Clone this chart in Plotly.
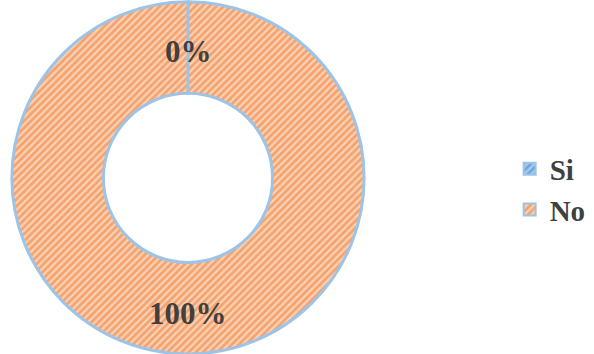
import plotly.graph_objects as go

categories = ["Si", "No"]
values = [0, 100]

colors_bg = ["#6FA8DC", "#F4A36E"]
colors_fg = ["#A9CDF0", "#FBD2B6"]

SERIF = "Liberation Serif"
total = sum(values)

cx0, cx1 = 0.02, 0.613
fig = go.Figure(go.Pie(
    labels=[f"<b>{c}</b>" for c in categories],
    values=values,
    hole=0.48,
    sort=False,
    direction="clockwise",
    rotation=0,
    textinfo="none",
    marker=dict(
        colors=colors_bg,
        line=dict(color="#9DC3E6", width=3),
        pattern=dict(shape="/", fgcolor=colors_fg, bgcolor=colors_bg,
                     size=5, solidity=0.45, fillmode="replace"),
    ),
    domain=dict(x=[cx0, cx1], y=[0.0, 0.995]),
    showlegend=True,
))

# slice boundary at the top of the ring (zero-width "Si" slice)
cx = (cx0 + cx1) / 2
fig.add_shape(type="line", xref="paper", yref="paper",
              x0=cx, x1=cx, y0=0.995, y1=0.74,
              line=dict(color="#9DC3E6", width=3))

# percentage labels, placed mid-ring at each slice's centre angle
label_y = {"Si": 0.855, "No": 0.115}
for cat, v in zip(categories, values):
    fig.add_annotation(
        x=cx, y=label_y[cat], xref="paper", yref="paper",
        xanchor="center", yanchor="middle",
        text=f"<b>{round(100 * v / total)}%</b>", showarrow=False,
        font=dict(family=SERIF, size=31, color="#404040"),
    )

fig.update_layout(
    width=594, height=354,
    margin=dict(l=0, r=0, t=0, b=0),
    paper_bgcolor="white",
    plot_bgcolor="white",
    font=dict(family=SERIF),
    legend=dict(
        x=0.858, y=0.465, xanchor="left", yanchor="middle",
        font=dict(family=SERIF, size=29, color="#404040"),
        itemsizing="constant", tracegroupgap=14,
    ),
)

fig.write_html("out.html")
